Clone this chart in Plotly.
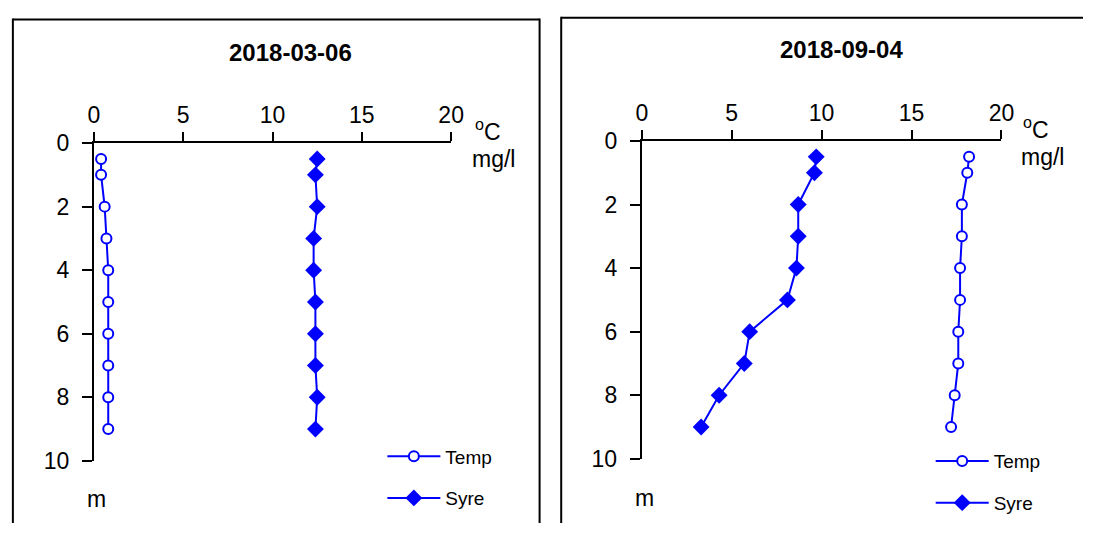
import plotly.graph_objects as go

W, H = 1096, 536

depth = [0.5, 1, 2, 3, 4, 5, 6, 7, 8, 9]
temp_mar = [0.4, 0.4, 0.6, 0.7, 0.8, 0.8, 0.8, 0.8, 0.8, 0.8]
syre_mar = [12.5, 12.4, 12.5, 12.3, 12.3, 12.4, 12.4, 12.4, 12.5, 12.4]
temp_sep = [18.2, 18.1, 17.8, 17.8, 17.7, 17.7, 17.6, 17.6, 17.4, 17.2]
syre_sep = [9.7, 9.6, 8.7, 8.7, 8.6, 8.1, 6.0, 5.7, 4.3, 3.3]
titles = ["2018-03-06", "2018-09-04"]
x_ticks = [0, 5, 10, 15, 20]
y_ticks = [0, 2, 4, 6, 8, 10]

FONT = "Liberation Sans, Arial, sans-serif"
BLUE = "#0000FF"

def px(x):
    return x / W

def py(y):
    return 1 - y / H

fig = go.Figure()

panels = [
    dict(temp=temp_mar, syre=syre_mar, xa="x", ya="y", leg="legend"),
    dict(temp=temp_sep, syre=syre_sep, xa="x2", ya="y2", leg="legend2"),
]
for p in panels:
    fig.add_trace(go.Scatter(
        x=p["temp"], y=depth, name="Temp", mode="lines+markers",
        xaxis=p["xa"], yaxis=p["ya"], legend=p["leg"], legendgroup=p["leg"] + "t",
        line=dict(color=BLUE, width=2),
        marker=dict(symbol="circle", size=10, color="white", line=dict(color=BLUE, width=2)),
    ))
    fig.add_trace(go.Scatter(
        x=p["syre"], y=depth, name="Syre", mode="lines+markers",
        xaxis=p["xa"], yaxis=p["ya"], legend=p["leg"], legendgroup=p["leg"] + "s",
        line=dict(color=BLUE, width=2),
        marker=dict(symbol="diamond", size=13, color=BLUE, line=dict(color=BLUE, width=0)),
    ))

def xaxis(domain, anchor):
    return dict(domain=domain, anchor=anchor, range=[0, 20], side="top",
                tickvals=x_ticks, showline=True, linecolor="black", linewidth=2,
                ticks="outside", ticklen=9, tickwidth=2, tickcolor="black",
                showgrid=False, zeroline=False, fixedrange=True,
                tickfont=dict(family=FONT, size=23, color="black"))

def yaxis(domain, anchor):
    return dict(domain=domain, anchor=anchor, range=[10, 0],
                tickvals=y_ticks, showline=True, linecolor="black", linewidth=2,
                ticks="outside", ticklen=10, tickwidth=2, tickcolor="black",
                showgrid=False, zeroline=False, fixedrange=True,
                ticklabelstandoff=8,
                tickfont=dict(family=FONT, size=23, color="black"))

leg_common = dict(font=dict(family=FONT, size=19, color="black"),
                  bgcolor="rgba(0,0,0,0)", borderwidth=0, tracegroupgap=14,
                  itemwidth=53, xanchor="left", yanchor="top")

fig.update_layout(
    width=W, height=H,
    margin=dict(l=0, r=0, t=0, b=0),
    paper_bgcolor="white", plot_bgcolor="white",
    showlegend=True,
    xaxis=xaxis([px(89.5), px(453)], "y"),
    yaxis=yaxis([py(470.7), py(136.7)], "x"),
    xaxis2=xaxis([px(647), px(1013)], "y2"),
    yaxis2=yaxis([py(468.5), py(134.5)], "x2"),
    legend=dict(x=px(383), y=py(446), **leg_common),
    legend2=dict(x=px(941), y=py(451), **leg_common),
)

def seg(x0, y0, x1, y1):
    return dict(type="line", xref="paper", yref="paper",
                x0=px(x0), y0=py(y0), x1=px(x1), y1=py(y1),
                line=dict(color="black", width=2))

# panel frames (bottom / right edges fall outside the picture in the reference)
shapes = [
    seg(7, 6.7, 543, 6.7), seg(7, 5.7, 7, 536), seg(543, 5.7, 543, 536),
    seg(565, 5, 1096, 5), seg(565, 4, 565, 536),
]
fig.update_layout(shapes=shapes)

ann = []
def add_text(text, x, y, size, bold=False):
    ann.append(dict(text=("<b>%s</b>" % text) if bold else text, x=px(x), y=py(y),
                    xref="paper", yref="paper", showarrow=False,
                    xanchor="center", yanchor="middle",
                    font=dict(family=FONT, size=size, color="black")))

add_text(titles[0], 290, 41, 24, bold=True)
add_text(titles[1], 850, 38, 24, bold=True)
add_text("<sup>o</sup>C", 490, 123, 23)
add_text("mg/l", 496, 153, 23)
add_text("<sup>o</sup>C", 1048, 121, 23)
add_text("mg/l", 1055, 151, 23)
add_text("m", 92, 511, 23)
add_text("m", 650, 510, 23)
fig.update_layout(annotations=ann)

fig.write_html("out.html", config={"displayModeBar": False},
               post_script="document.body.style.margin='0';")
